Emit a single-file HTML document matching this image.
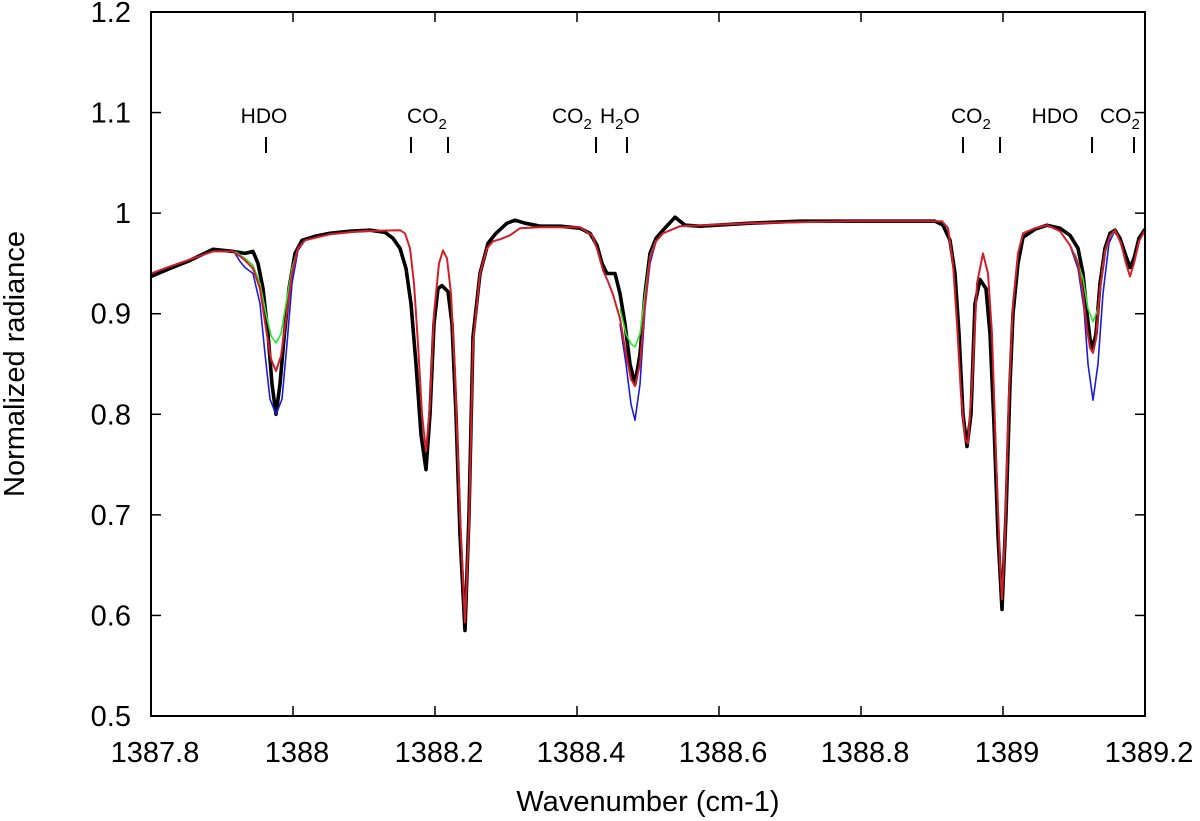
<!DOCTYPE html>
<html><head><meta charset="utf-8"><style>
html,body{margin:0;padding:0;background:#fff}
svg{display:block;font-family:"Liberation Sans",sans-serif}
</style></head><body>
<svg id="chart" width="1200" height="821" viewBox="0 0 1200 821" xmlns="http://www.w3.org/2000/svg">
<g id="ann"></g>
<g id="series"></g>
<g id="axes"></g>
</svg>
<script>
const xTicks = [1387.8, 1388, 1388.2, 1388.4, 1388.6, 1388.8, 1389, 1389.2];
const xTickLabels = ["1387.8","1388","1388.2","1388.4","1388.6","1388.8","1389","1389.2"];
const yTicks = [0.5,0.6,0.7,0.8,0.9,1.0,1.1,1.2];
const yTickLabels = ["0.5","0.6","0.7","0.8","0.9","1","1.1","1.2"];

const obsX = [1387.8,1387.8268,1387.8549,1387.8873,1387.9155,1387.9324,1387.9437,1387.9507,1387.9577,1387.9648,1387.9704,1387.9761,1387.9817,1387.9873,1387.9944,1388.0028,1388.0127,1388.0310,1388.0521,1388.0803,1388.1085,1388.1296,1388.1408,1388.1507,1388.1592,1388.1662,1388.1732,1388.1803,1388.1873,1388.1930,1388.1986,1388.2042,1388.2099,1388.2183,1388.2239,1388.2296,1388.2352,1388.2423,1388.2479,1388.2535,1388.2634,1388.2746,1388.2859,1388.3014,1388.3127,1388.3268,1388.3479,1388.3761,1388.4042,1388.4183,1388.4282,1388.4352,1388.4423,1388.4535,1388.4606,1388.4676,1388.4746,1388.4817,1388.4887,1388.4958,1388.5028,1388.5113,1388.5211,1388.5380,1388.5521,1388.5732,1388.6437,1388.7141,1388.7845,1388.8549,1388.9042,1388.9155,1388.9254,1388.9324,1388.9380,1388.9437,1388.9493,1388.9549,1388.9606,1388.9676,1388.9761,1388.9817,1388.9873,1388.9930,1388.9986,1389.0042,1389.0099,1389.0141,1389.0211,1389.0282,1389.0451,1389.0620,1389.0803,1389.0944,1389.1056,1389.1127,1389.1183,1389.1225,1389.1268,1389.1310,1389.1366,1389.1437,1389.1507,1389.1577,1389.1648,1389.1718,1389.1789,1389.1845,1389.1915,1389.2];
const obsY = [0.937,0.945,0.953,0.964,0.962,0.960,0.962,0.950,0.925,0.880,0.830,0.800,0.830,0.875,0.925,0.960,0.973,0.977,0.980,0.982,0.983,0.981,0.975,0.965,0.945,0.910,0.850,0.780,0.745,0.800,0.890,0.925,0.928,0.922,0.890,0.800,0.680,0.585,0.700,0.877,0.940,0.970,0.980,0.990,0.993,0.990,0.987,0.987,0.985,0.980,0.968,0.950,0.940,0.940,0.920,0.890,0.850,0.830,0.860,0.920,0.960,0.975,0.983,0.996,0.988,0.987,0.990,0.992,0.992,0.992,0.992,0.988,0.973,0.940,0.880,0.800,0.768,0.800,0.910,0.934,0.925,0.880,0.790,0.680,0.606,0.700,0.830,0.900,0.950,0.976,0.984,0.988,0.985,0.978,0.965,0.940,0.900,0.875,0.866,0.880,0.930,0.965,0.980,0.983,0.975,0.960,0.946,0.955,0.975,0.984];

const redX = [1387.8,1387.8268,1387.8549,1387.8873,1387.9155,1387.9296,1387.9437,1387.9535,1387.9620,1387.9690,1387.9761,1387.9831,1387.9901,1387.9986,1388.0070,1388.0169,1388.0521,1388.0944,1388.1507,1388.1577,1388.1648,1388.1704,1388.1761,1388.1817,1388.1873,1388.1930,1388.1986,1388.2056,1388.2113,1388.2169,1388.2225,1388.2282,1388.2352,1388.2423,1388.2479,1388.2535,1388.2634,1388.2732,1388.2817,1388.2915,1388.3056,1388.3197,1388.3479,1388.4042,1388.4211,1388.4296,1388.4366,1388.4437,1388.4507,1388.4606,1388.4690,1388.4761,1388.4817,1388.4887,1388.4958,1388.5028,1388.5113,1388.5211,1388.5451,1388.6437,1388.7845,1388.9141,1388.9225,1388.9296,1388.9352,1388.9408,1388.9465,1388.9507,1388.9563,1388.9634,1388.9718,1388.9789,1388.9845,1388.9901,1388.9958,1388.9986,1389.0028,1389.0085,1389.0141,1389.0211,1389.0282,1389.0451,1389.0620,1389.0803,1389.0944,1389.1056,1389.1127,1389.1183,1389.1225,1389.1268,1389.1310,1389.1366,1389.1437,1389.1507,1389.1577,1389.1662,1389.1732,1389.1789,1389.1845,1389.1915,1389.2];
const redY = [0.940,0.947,0.954,0.962,0.962,0.955,0.945,0.925,0.885,0.855,0.843,0.858,0.895,0.940,0.965,0.973,0.979,0.982,0.983,0.980,0.965,0.930,0.870,0.800,0.763,0.810,0.900,0.950,0.963,0.955,0.920,0.840,0.700,0.593,0.690,0.870,0.940,0.965,0.972,0.974,0.978,0.985,0.986,0.986,0.978,0.962,0.943,0.932,0.919,0.895,0.860,0.835,0.828,0.850,0.910,0.955,0.972,0.980,0.987,0.990,0.992,0.992,0.985,0.950,0.890,0.820,0.775,0.771,0.830,0.930,0.960,0.940,0.880,0.760,0.650,0.616,0.680,0.820,0.910,0.960,0.980,0.985,0.988,0.982,0.968,0.950,0.920,0.885,0.866,0.861,0.875,0.925,0.962,0.978,0.983,0.970,0.950,0.937,0.950,0.972,0.983];

const greenX = [1387.9183,1387.9324,1387.9437,1387.9535,1387.9620,1387.9690,1387.9761,1387.9831,1387.9901,1387.9986,1388.0070,1388.0169,null,1388.4606,1388.4690,1388.4761,1388.4817,1388.4887,1388.4958,1388.5028,1388.5113,null,1389.1014,1389.1127,1389.1197,1389.1268,1389.1338,1389.1408,1389.1493,1389.1577];
const greenY = [0.962,0.955,0.948,0.930,0.900,0.878,0.871,0.880,0.910,0.945,0.965,0.973,null,0.905,0.880,0.870,0.867,0.880,0.920,0.957,0.973,null,0.960,0.935,0.905,0.892,0.905,0.950,0.975,0.983];
const blueX = [1387.9183,1387.9254,1387.9324,1387.9437,1387.9535,1387.9606,1387.9676,1387.9761,1387.9845,1387.9915,1387.9986,1388.0070,1388.0169,null,1388.4606,1388.4690,1388.4761,1388.4817,1388.4887,1388.4958,1388.5028,1388.5113,null,1389.0944,1389.1056,1389.1141,1389.1197,1389.1268,1389.1338,1389.1408,1389.1493,1389.1577];
const blueY = [0.960,0.952,0.946,0.940,0.910,0.860,0.815,0.800,0.815,0.870,0.930,0.963,0.973,null,0.890,0.850,0.810,0.794,0.830,0.905,0.950,0.972,null,0.968,0.945,0.905,0.850,0.814,0.850,0.920,0.970,0.983];

const annPos = [1387.9620,1388.1662,1388.2183,1388.4268,1388.4704,1388.9437,1388.9958,1389.1254,1389.1845];

const NS = "http://www.w3.org/2000/svg";
const L=151, R=1145, T=12, B=716;
const X0=1387.8, X1=1389.2, Y0=0.5, Y1=1.2;
function sx(v){return L+(v-X0)/(X1-X0)*(R-L);}
function sy(v){return B-(v-Y0)/(Y1-Y0)*(B-T);}
function mk(tag, attrs, parent){const e=document.createElementNS(NS,tag);for(const k in attrs)e.setAttribute(k,attrs[k]);parent.appendChild(e);return e;}

const axes=document.getElementById('axes');
const frame=mk('rect',{x:L,y:T,width:R-L,height:B-T,fill:'none',stroke:'#000','stroke-width':2},axes);


xTicks.forEach((v,i)=>{
  const x=sx(v);
  const t1=mk('line',{x1:x,x2:x,y1:B,y2:B-10,stroke:'#000','stroke-width':1.5},axes);
  
  
  const t2=mk('line',{x1:x,x2:x,y1:T,y2:T+10,stroke:'#000','stroke-width':1.5},axes);
  
  
  const tx=mk('text',{x:x+4,y:762,'font-size':29,'text-anchor':'middle',fill:'#000'},axes);
  tx.textContent=xTickLabels[i];
  
  
});
yTicks.forEach((v,i)=>{
  const y=sy(v);
  const t1=mk('line',{x1:L,x2:L+10,y1:y,y2:y,stroke:'#000','stroke-width':1.5},axes);
  
  
  const t2=mk('line',{x1:R,x2:R-10,y1:y,y2:y,stroke:'#000','stroke-width':1.5},axes);
  
  
  const tx=mk('text',{x:131,y:y+10,'font-size':29,'text-anchor':'end',fill:'#000'},axes);
  tx.textContent=yTickLabels[i];
  
  
});
const xt=mk('text',{x:648,y:811,'font-size':29,'text-anchor':'middle',fill:'#000'},axes);
xt.textContent='Wavenumber (cm-1)';


const yt=mk('text',{x:0,y:0,'font-size':29,'text-anchor':'middle',fill:'#000',transform:'translate(24,364) rotate(-90)'},axes);
yt.textContent='Normalized radiance';



const ser=document.getElementById('series');
function pathFrom(xs,ys){let d='',pen=false;for(let i=0;i<xs.length;i++){if(xs[i]===null||ys[i]===null){pen=false;continue;}d+=(pen?'L':'M')+sx(xs[i]).toFixed(1)+','+sy(ys[i]).toFixed(1);pen=true;}return d;}
const pObs=mk('path',{d:pathFrom(obsX,obsY),fill:'none',stroke:'#000','stroke-width':3.6,'stroke-linejoin':'round'},ser);


const pBlue=mk('path',{d:pathFrom(blueX,blueY),fill:'none',stroke:'#1c1cd8','stroke-width':1.6,'stroke-linejoin':'round'},ser);


const pGreen=mk('path',{d:pathFrom(greenX,greenY),fill:'none',stroke:'#2ee02e','stroke-width':1.6,'stroke-linejoin':'round'},ser);


const pRed=mk('path',{d:pathFrom(redX,redY),fill:'none',stroke:'#d11f2a','stroke-width':2,'stroke-linejoin':'round'},ser);



const ann=document.getElementById('ann');
annPos.forEach(v=>{
  const x=sx(v);
  const t=mk('line',{x1:x,x2:x,y1:137,y2:153,stroke:'#000','stroke-width':2},ann);
  
  
});
</script>
<svg style="position:absolute;left:0;top:0" width="1200" height="140">
<g font-family="Liberation Sans, sans-serif" font-size="21" fill="#000">
<text x="264" y="123" text-anchor="middle">HDO</text>
<text x="407" y="123">CO<tspan font-size="15" dy="6">2</tspan></text>
<text x="552" y="123">CO<tspan font-size="15" dy="6">2</tspan></text>
<text x="600" y="123">H<tspan font-size="15" dy="6">2</tspan><tspan dy="-6">O</tspan></text>
<text x="951" y="123">CO<tspan font-size="15" dy="6">2</tspan></text>
<text x="1055" y="123" text-anchor="middle">HDO</text>
<text x="1100" y="123">CO<tspan font-size="15" dy="6">2</tspan></text>
</g>
</svg>
</body></html>
